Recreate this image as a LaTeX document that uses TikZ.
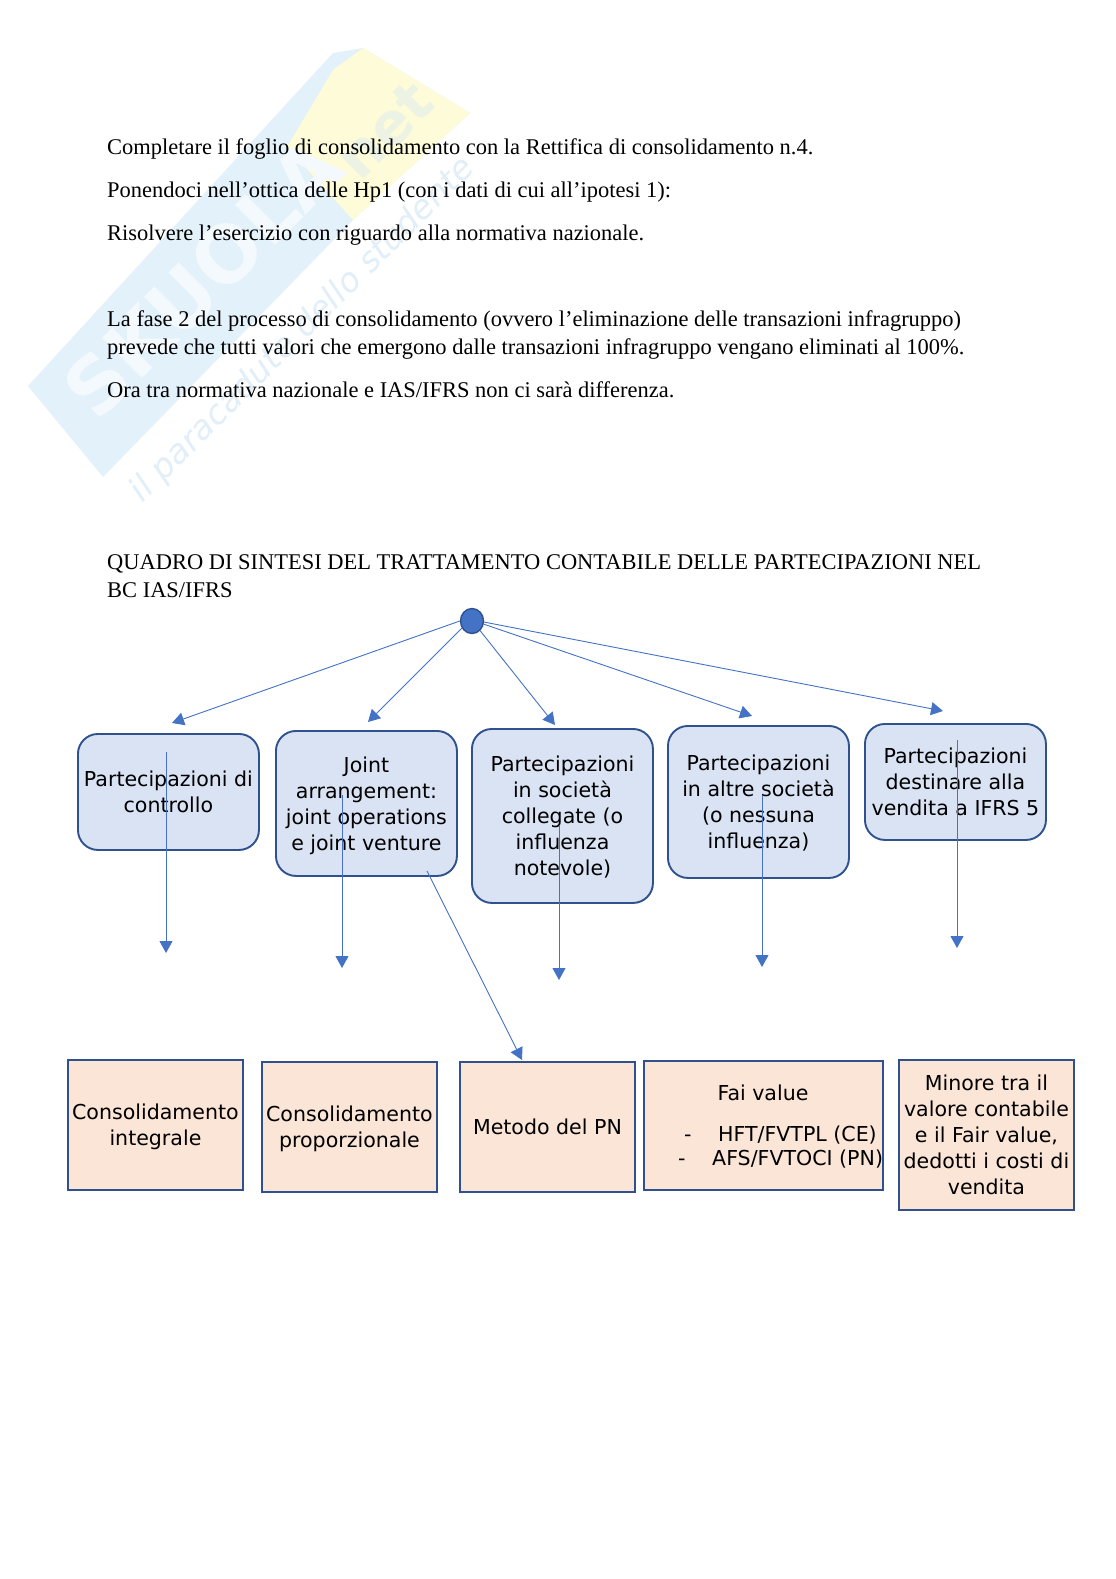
\documentclass[tikz,border=0pt]{standalone}
\usepackage{fontspec}
\setmainfont{Liberation Serif}
\newfontfamily\boxfont{DejaVu Sans}
\usetikzlibrary{arrows.meta,shapes.geometric}
\definecolor{lineblue}{HTML}{4472C4}
\definecolor{edgeblue}{HTML}{2F528F}
\definecolor{fillblue}{HTML}{DAE3F3}
\definecolor{fillpeach}{HTML}{FBE5D6}
\definecolor{wmblue}{HTML}{E3F1FA}
\definecolor{wmyellow}{HTML}{FDFBD8}
\definecolor{wmtext}{HTML}{E2EFF8}
\definecolor{wmnet}{HTML}{EDF3E4}
\definecolor{wmletter}{HTML}{F3F9FD}
\tikzset{
 x=1pt,y=-1pt,
 bodytext/.style={anchor=base west,inner sep=0pt,font=\fontsize{22.46}{28}\selectfont},
 topbox/.style={draw=edgeblue,fill=fillblue,line width=1.9pt,rounded corners=20pt,minimum width=181pt,inner sep=0pt,anchor=north west},
 botbox/.style={draw=edgeblue,fill=fillpeach,line width=1.9pt,inner sep=0pt,anchor=north west},
 boxtext/.style={inner sep=0pt,align=center,font=\boxfont\fontsize{20.55}{26}\selectfont},
 listtext/.style={inner sep=0pt,anchor=base west,font=\boxfont\fontsize{20.55}{26}\selectfont},
 conn/.style={draw=lineblue,line width=0.9pt,-{Triangle[length=12pt,width=13pt,fill=lineblue]}}
}
\begin{document}
\begin{tikzpicture}
\useasboundingbox (0,0) rectangle (1116,1579);
\fill[white] (0,0) rectangle (1116,1579);
% watermark
\fill[wmblue] (28,386) -- (333,53) -- (363,48) -- (470,113) -- (353,220) -- (103,477) -- cycle;
\fill[wmyellow] (287,147) -- (333,70) -- (363,48) -- (470,113) -- (353,220) -- cycle;
\node[rotate=45,text=wmletter,font=\boxfont\bfseries\fontsize{78}{78}\selectfont,inner sep=0pt] (wmlogo) at (203,278) {SKUOLA};
\node[rotate=45,text=wmnet,font=\boxfont\bfseries\fontsize{58}{58}\selectfont,inner sep=0pt] (wmnetext) at (385,130) {net};
\node[rotate=45,text=wmtext,font=\boxfont\itshape\fontsize{33.5}{33.5}\selectfont,inner sep=0pt] (wmsub) at (303,330) {il paracadute dello studente};
% body text
\node[bodytext] (t1) at (107,154) {Completare il foglio di consolidamento con la Rettifica di consolidamento n.4.};
\node[bodytext] (t2) at (107,197) {Ponendoci nell’ottica delle Hp1 (con i dati di cui all’ipotesi 1):};
\node[bodytext] (t3) at (107,240) {Risolvere l’esercizio con riguardo alla normativa nazionale.};
\node[bodytext] (t4) at (107,326) {La fase 2 del processo di consolidamento (ovvero l’eliminazione delle transazioni infragruppo)};
\node[bodytext] (t5) at (107,354) {prevede che tutti valori che emergono dalle transazioni infragruppo vengano eliminati al 100\%.};
\node[bodytext] (t6) at (107,397) {Ora tra normativa nazionale e IAS/IFRS non ci sarà differenza.};
\node[bodytext] (t7) at (107,569) {QUADRO DI SINTESI DEL TRATTAMENTO CONTABILE DELLE PARTECIPAZIONI NEL};
\node[bodytext] (t8) at (107,597) {BC IAS/IFRS};
% top boxes
\node[topbox,minimum height=116pt] (a) at (77,733) {};
\node[topbox,minimum height=145pt] (b) at (275,730) {};
\node[topbox,minimum height=174pt] (c) at (471,728) {};
\node[topbox,minimum height=152pt] (d) at (667,725) {};
\node[topbox,minimum height=116pt] (e) at (864,723) {};
\node[boxtext] (atx) at (a.center) {Partecipazioni di\\controllo};
\node[boxtext] (btx) at ([yshift=-2pt]b.center) {Joint\\arrangement:\\joint operations\\e joint venture};
\node[boxtext] (ctx) at ([yshift=-1pt]c.center) {Partecipazioni\\in società\\collegate (o\\influenza\\notevole)};
\node[boxtext] (dtx) at ([yshift=-1pt]d.center) {Partecipazioni\\in altre società\\(o nessuna\\influenza)};
\node[boxtext] (etx) at (e.center) {Partecipazioni\\destinare alla\\vendita a IFRS 5};
% hub
\node[ellipse,draw=edgeblue,fill=lineblue,line width=1.4pt,minimum width=23pt,minimum height=25pt,inner sep=0pt] (hub) at (472,621) {};
% bottom boxes
\node[botbox,minimum width=175pt,minimum height=130pt] (p) at (67,1059) {};
\node[botbox,minimum width=175pt,minimum height=130pt] (q) at (261,1061) {};
\node[botbox,minimum width=175pt,minimum height=130pt] (r) at (459,1061) {};
\node[botbox,minimum width=239pt,minimum height=129pt] (s) at (643,1060) {};
\node[botbox,minimum width=175pt,minimum height=150pt] (u) at (898,1059) {};
\node[boxtext] (ptx) at ([yshift=-1.5pt]p.center) {Consolidamento\\integrale};
\node[boxtext] (qtx) at ([yshift=-2pt]q.center) {Consolidamento\\proporzionale};
\node[boxtext] (rtx) at (r.center) {Metodo del PN};
\node[boxtext] (utx) at (u.center) {Minore tra il\\valore contabile\\e il Fair value,\\dedotti i costi di\\vendita};
\node[boxtext] (s1) at (763,1093) {Fai value};
\node[listtext] (s2) at (718,1141) {HFT/FVTPL (CE)};
\node[listtext] (s3) at (712,1165) {AFS/FVTOCI (PN)};
\node[listtext] (s4) at (684,1141) {-};
\node[listtext] (s5) at (678,1165) {-};
% connector ends
\coordinate (h1) at (172,723);
\coordinate (h2) at (368,722);
\coordinate (h3) at (555,725);
\coordinate (h4) at (752,716);
\coordinate (h5) at (943,711);
\coordinate (a0) at (166,752);
\coordinate (a1) at (166,953);
\coordinate (b0) at (342,795);
\coordinate (b1) at (342,968);
\coordinate (c0) at (559,825);
\coordinate (c1) at (559,980);
\coordinate (d0) at (762,796);
\coordinate (d1) at (762,967);
\coordinate (e0) at (957,740);
\coordinate (e1) at (957,948);
\coordinate (f0) at (427,871);
\coordinate (f1) at (522,1060);
\draw[conn] (hub.180) -- (h1);
\draw[conn] (hub.215) -- (h2);
\draw[conn] (hub.-50) -- (h3);
\draw[conn] (hub.-15) -- (h4);
\draw[conn] (hub.-5) -- (h5);
\draw[conn] (a0) -- (a1);
\draw[conn] (b0) -- (b1);
\draw[conn] (c0) -- (c1);
\draw[conn] (d0) -- (d1);
\draw[conn] (e0) -- (e1);
\draw[conn] (f0) -- (f1);
\end{tikzpicture}
\end{document}
